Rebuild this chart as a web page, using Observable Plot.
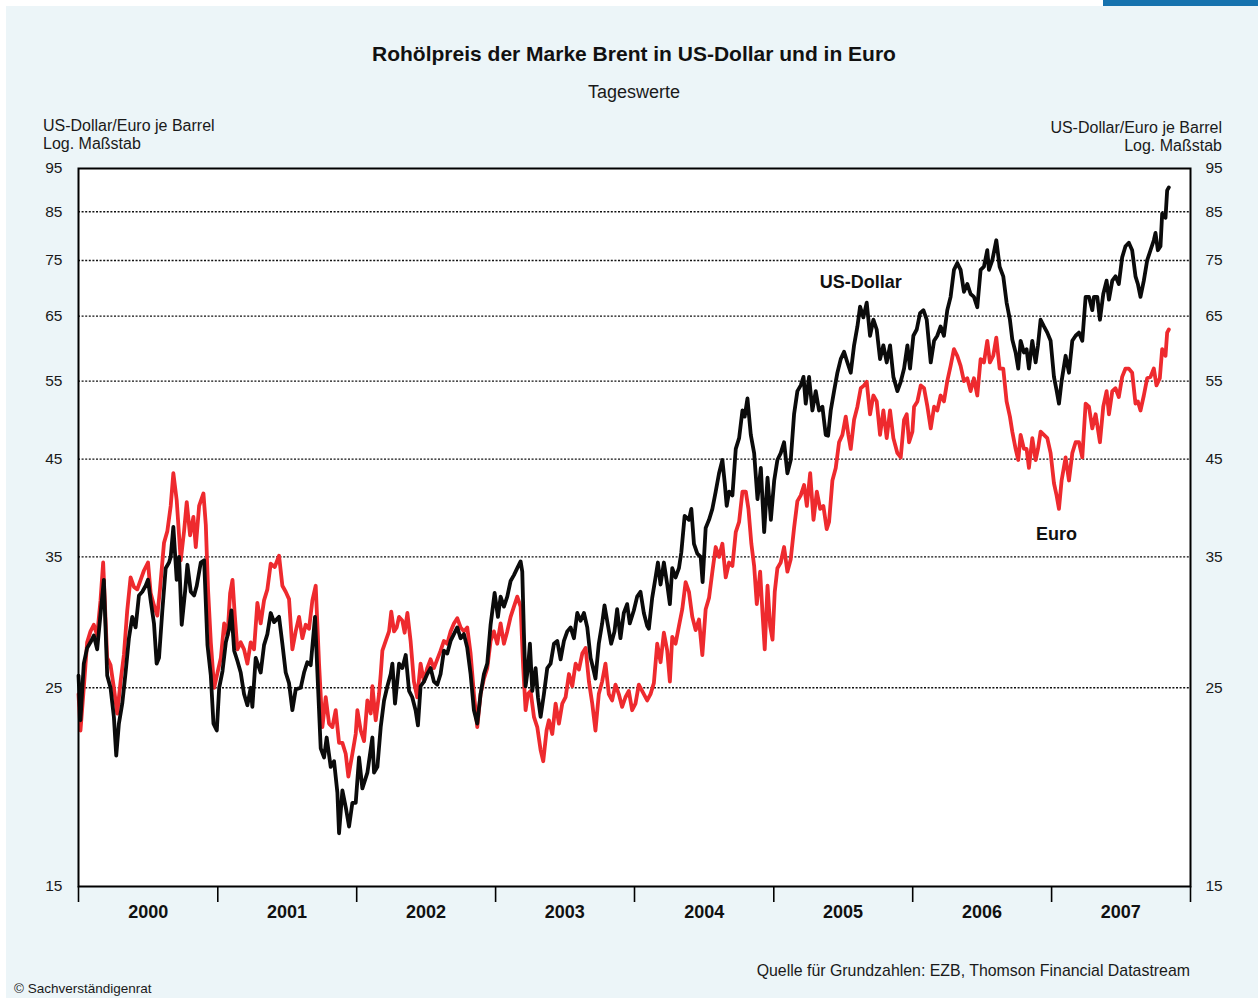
<!DOCTYPE html>
<html lang="de">
<head>
<meta charset="utf-8">
<script src="https://cdn.jsdelivr.net/npm/d3@7"></script>
<script src="https://cdn.jsdelivr.net/npm/@observablehq/plot@0.6"></script>
<style>
  html, body { margin: 0; padding: 0; background: #ffffff; }
  #wrap { position: relative; width: 1258px; height: 999px; overflow: hidden;
          font-family: "Liberation Sans", Arial, Helvetica, sans-serif; color: #1a1a1a; }
  #panel { position: absolute; left: 6px; top: 6px; width: 1252px; height: 992px; background: #ecf5f8; }
  #bar { position: absolute; left: 1103px; top: 0; width: 155px; height: 6px; background: #1672ae; }
  #chart { position: absolute; left: 0; top: 0; }
  .t { position: absolute; white-space: nowrap; line-height: 1; }
  #title { left: 0; width: 1268px; text-align: center; top: 43px; font-size: 21px; font-weight: bold; color: #111; }
  #subtitle { left: 0; width: 1268px; text-align: center; top: 83px; font-size: 18px; }
  #ylabL { left: 43px; top: 117px; font-size: 16px; line-height: 18px; }
  #ylabR { right: 36px; top: 119px; font-size: 16px; line-height: 18px; text-align: right; }
  #source { right: 68px; top: 963px; font-size: 15.9px; }
  #copy { left: 14px; top: 982px; font-size: 13.5px; }
</style>
</head>
<body>
<div id="wrap">
  <div id="panel"></div>
  <div id="bar"></div>
  <div id="chart"></div>
  <div class="t" id="title">Rohölpreis der Marke Brent in US-Dollar und in Euro</div>
  <div class="t" id="subtitle">Tageswerte</div>
  <div class="t" id="ylabL">US-Dollar/Euro je Barrel<br>Log. Maßstab</div>
  <div class="t" id="ylabR">US-Dollar/Euro je Barrel<br>Log. Maßstab</div>
  <div class="t" id="source">Quelle für Grundzahlen: EZB, Thomson Financial Datastream</div>
  <div class="t" id="copy">© Sachverständigenrat</div>
</div>
<script>
// Brent price in US-Dollar per barrel: [decimal year, value]
const usd = [
[2000.000,25.8],[2000.014,23.0],[2000.038,26.6],[2000.062,27.7],[2000.086,28.1],[2000.110,28.6],[2000.134,27.6],[2000.158,30.2],[2000.182,33.0],[2000.206,25.8],[2000.230,25.0],[2000.254,23.2],[2000.271,21.0],[2000.290,22.8],[2000.314,24.0],[2000.338,26.0],[2000.362,28.4],[2000.386,30.0],[2000.410,29.2],[2000.434,31.7],[2000.458,32.0],[2000.482,32.5],[2000.499,33.0],[2000.518,31.3],[2000.542,29.5],[2000.561,26.6],[2000.578,27.0],[2000.602,30.5],[2000.626,34.0],[2000.650,34.5],[2000.662,35.0],[2000.681,37.8],[2000.705,33.0],[2000.722,35.0],[2000.741,29.4],[2000.765,32.0],[2000.782,34.3],[2000.806,32.0],[2000.830,31.7],[2000.849,32.5],[2000.878,34.5],[2000.902,34.7],[2000.926,27.9],[2000.950,25.8],[2000.969,22.8],[2000.993,22.4],
[2001.010,25.0],[2001.034,26.1],[2001.058,28.1],[2001.082,29.1],[2001.098,30.5],[2001.118,27.5],[2001.141,26.8],[2001.165,26.0],[2001.189,24.6],[2001.213,23.9],[2001.237,25.0],[2001.249,23.8],[2001.273,27.0],[2001.309,26.0],[2001.333,27.9],[2001.357,28.7],[2001.381,30.3],[2001.405,29.6],[2001.441,30.0],[2001.465,28.0],[2001.489,26.0],[2001.513,25.3],[2001.537,23.6],[2001.561,24.9],[2001.597,25.0],[2001.621,26.0],[2001.645,26.7],[2001.669,26.5],[2001.700,30.0],[2001.722,25.0],[2001.741,21.4],[2001.765,20.9],[2001.784,22.0],[2001.813,20.4],[2001.837,20.7],[2001.861,19.1],[2001.873,17.2],[2001.897,19.2],[2001.921,18.4],[2001.945,17.5],[2001.969,18.6],[2001.993,18.6],
[2002.017,20.9],[2002.041,19.3],[2002.077,20.1],[2002.113,22.0],[2002.125,20.1],[2002.149,20.4],[2002.173,22.6],[2002.197,24.2],[2002.221,25.1],[2002.245,25.9],[2002.257,26.6],[2002.276,24.0],[2002.305,26.6],[2002.329,26.3],[2002.353,27.2],[2002.377,24.8],[2002.400,24.4],[2002.424,23.6],[2002.441,22.7],[2002.460,25.1],[2002.484,25.4],[2002.508,25.9],[2002.532,26.3],[2002.556,25.4],[2002.580,25.2],[2002.604,25.9],[2002.628,27.5],[2002.652,27.3],[2002.676,28.2],[2002.700,28.7],[2002.724,29.2],[2002.748,28.4],[2002.772,28.7],[2002.796,27.7],[2002.820,25.9],[2002.844,23.6],[2002.868,22.8],[2002.892,24.6],[2002.916,25.9],[2002.940,26.6],[2002.964,29.4],[2002.993,31.9],
[2003.017,30.0],[2003.036,31.6],[2003.060,30.8],[2003.084,31.6],[2003.108,32.9],[2003.132,33.4],[2003.156,34.0],[2003.180,34.6],[2003.192,33.7],[2003.204,28.7],[2003.216,25.1],[2003.233,26.3],[2003.247,28.0],[2003.264,24.8],[2003.288,26.3],[2003.305,24.4],[2003.324,23.2],[2003.348,24.6],[2003.372,26.3],[2003.396,26.6],[2003.420,28.0],[2003.444,28.2],[2003.468,26.9],[2003.492,28.2],[2003.516,28.9],[2003.540,29.2],[2003.564,28.4],[2003.588,30.3],[2003.612,29.7],[2003.636,30.3],[2003.660,29.2],[2003.684,27.0],[2003.707,26.1],[2003.719,25.6],[2003.743,28.0],[2003.767,29.5],[2003.784,30.9],[2003.803,29.7],[2003.832,28.0],[2003.856,28.9],[2003.875,30.6],[2003.899,28.4],[2003.923,30.3],[2003.947,31.0],[2003.966,29.5],[2003.995,30.5],
[2004.019,31.6],[2004.043,32.0],[2004.067,30.3],[2004.091,29.3],[2004.103,29.1],[2004.127,31.5],[2004.151,33.2],[2004.168,34.5],[2004.187,32.6],[2004.211,34.5],[2004.235,32.6],[2004.254,31.0],[2004.271,34.0],[2004.295,33.2],[2004.319,34.0],[2004.336,35.4],[2004.360,38.9],[2004.391,38.5],[2004.408,39.6],[2004.427,36.2],[2004.451,35.3],[2004.475,35.0],[2004.489,32.8],[2004.511,37.7],[2004.535,38.5],[2004.559,39.6],[2004.583,41.4],[2004.607,43.4],[2004.631,44.9],[2004.648,42.3],[2004.662,39.9],[2004.679,41.4],[2004.703,41.0],[2004.727,46.2],[2004.751,47.5],[2004.775,51.0],[2004.791,50.2],[2004.811,52.6],[2004.835,47.9],[2004.859,45.7],[2004.883,40.6],[2004.907,44.0],[2004.931,37.3],[2004.955,42.9],[2004.979,38.5],
[2005.003,42.6],[2005.026,44.9],[2005.050,45.7],[2005.074,47.0],[2005.098,43.4],[2005.122,44.9],[2005.146,50.5],[2005.170,53.6],[2005.194,54.4],[2005.214,55.6],[2005.230,51.9],[2005.254,55.6],[2005.278,51.0],[2005.302,53.6],[2005.326,51.0],[2005.350,51.5],[2005.374,47.9],[2005.391,47.8],[2005.410,51.0],[2005.434,53.6],[2005.458,56.2],[2005.482,58.2],[2005.506,59.3],[2005.530,57.7],[2005.554,56.2],[2005.578,60.3],[2005.602,63.3],[2005.621,66.6],[2005.645,64.8],[2005.669,67.3],[2005.693,61.8],[2005.717,64.4],[2005.741,62.8],[2005.765,58.2],[2005.789,60.3],[2005.813,57.7],[2005.837,60.3],[2005.861,55.6],[2005.890,53.6],[2005.914,54.9],[2005.938,56.8],[2005.962,60.3],[2005.981,56.8],
[2006.005,61.8],[2006.029,62.8],[2006.053,65.5],[2006.077,66.0],[2006.101,64.4],[2006.130,57.7],[2006.154,61.0],[2006.177,61.8],[2006.201,63.3],[2006.225,61.8],[2006.249,66.0],[2006.273,68.3],[2006.297,73.2],[2006.321,74.5],[2006.345,73.2],[2006.369,69.2],[2006.393,70.6],[2006.417,68.8],[2006.441,68.3],[2006.465,66.5],[2006.489,73.2],[2006.513,73.8],[2006.537,77.0],[2006.549,73.2],[2006.573,75.0],[2006.602,79.0],[2006.626,73.8],[2006.652,72.0],[2006.676,67.3],[2006.700,64.4],[2006.717,61.2],[2006.741,59.2],[2006.760,56.8],[2006.777,61.0],[2006.801,59.2],[2006.820,59.7],[2006.837,56.8],[2006.861,61.0],[2006.885,57.7],[2006.902,60.3],[2006.921,64.4],[2006.945,63.3],[2006.969,62.3],[2006.993,61.0],
[2007.017,55.6],[2007.036,53.7],[2007.053,51.9],[2007.072,55.0],[2007.101,58.7],[2007.125,56.2],[2007.149,61.0],[2007.173,61.8],[2007.197,62.3],[2007.221,61.0],[2007.245,68.3],[2007.269,68.3],[2007.293,66.0],[2007.305,68.3],[2007.329,68.3],[2007.348,64.4],[2007.372,68.8],[2007.396,71.2],[2007.413,67.8],[2007.437,71.2],[2007.460,72.0],[2007.484,70.6],[2007.508,75.6],[2007.532,77.8],[2007.556,78.5],[2007.580,77.0],[2007.604,72.0],[2007.621,70.6],[2007.640,68.3],[2007.664,71.2],[2007.688,75.0],[2007.712,77.0],[2007.736,79.0],[2007.748,80.5],[2007.765,77.0],[2007.784,77.8],[2007.796,84.6],[2007.820,83.7],[2007.832,89.8],[2007.844,90.5]
];

// Brent price in Euro per barrel: [decimal year, value]
const eur = [
[2000.000,24.6],[2000.014,22.4],[2000.038,25.0],[2000.062,28.1],[2000.086,28.9],[2000.110,29.4],[2000.134,28.6],[2000.158,31.3],[2000.177,34.5],[2000.206,27.0],[2000.230,26.5],[2000.254,25.0],[2000.278,23.4],[2000.302,25.4],[2000.326,27.2],[2000.350,30.5],[2000.374,33.2],[2000.398,32.4],[2000.422,32.2],[2000.446,33.0],[2000.470,33.8],[2000.499,34.5],[2000.518,31.9],[2000.542,30.9],[2000.566,30.1],[2000.585,32.2],[2000.614,36.3],[2000.638,37.4],[2000.662,39.9],[2000.681,43.4],[2000.705,40.5],[2000.734,34.7],[2000.758,37.4],[2000.777,40.3],[2000.801,37.0],[2000.825,38.8],[2000.842,35.9],[2000.866,39.9],[2000.897,41.2],[2000.914,38.0],[2000.930,32.2],[2000.950,28.1],[2000.974,25.0],[2000.998,26.0],
[2001.022,27.0],[2001.046,29.5],[2001.070,28.6],[2001.089,31.9],[2001.106,33.0],[2001.122,30.2],[2001.141,27.6],[2001.165,28.1],[2001.189,27.6],[2001.213,26.6],[2001.237,28.1],[2001.261,27.6],[2001.285,31.1],[2001.309,29.5],[2001.333,31.3],[2001.357,32.2],[2001.381,34.4],[2001.410,34.1],[2001.441,35.1],[2001.465,32.5],[2001.489,32.0],[2001.513,31.4],[2001.537,27.6],[2001.561,28.9],[2001.585,30.0],[2001.609,28.4],[2001.633,29.4],[2001.657,29.1],[2001.681,31.3],[2001.705,32.5],[2001.729,26.6],[2001.753,22.6],[2001.777,24.4],[2001.801,22.8],[2001.825,22.6],[2001.849,23.6],[2001.873,21.7],[2001.897,21.7],[2001.921,21.1],[2001.940,19.9],[2001.969,21.1],[2001.993,22.2],
[2002.005,23.6],[2002.029,22.4],[2002.053,21.8],[2002.077,24.2],[2002.101,23.4],[2002.113,25.1],[2002.137,23.0],[2002.161,24.6],[2002.173,25.9],[2002.185,27.5],[2002.209,28.2],[2002.233,28.9],[2002.249,30.4],[2002.269,28.9],[2002.288,29.2],[2002.305,30.0],[2002.329,29.7],[2002.345,28.8],[2002.365,30.3],[2002.388,28.2],[2002.412,25.4],[2002.436,24.4],[2002.460,26.6],[2002.484,25.4],[2002.508,26.3],[2002.532,26.9],[2002.556,26.3],[2002.580,26.9],[2002.604,27.5],[2002.628,28.2],[2002.652,28.0],[2002.676,28.9],[2002.700,29.5],[2002.724,29.9],[2002.748,29.2],[2002.772,28.9],[2002.796,29.2],[2002.820,27.3],[2002.844,24.6],[2002.868,22.6],[2002.892,24.6],[2002.916,25.6],[2002.940,26.3],[2002.964,28.2],[2002.988,28.9],
[2003.012,28.0],[2003.036,29.5],[2003.060,28.0],[2003.084,28.9],[2003.108,30.0],[2003.132,30.8],[2003.156,31.6],[2003.180,30.8],[2003.199,26.3],[2003.216,23.6],[2003.233,24.6],[2003.252,24.8],[2003.276,23.2],[2003.300,22.6],[2003.324,21.3],[2003.343,20.7],[2003.367,22.4],[2003.384,23.0],[2003.408,22.2],[2003.432,24.0],[2003.456,22.8],[2003.480,24.0],[2003.504,24.4],[2003.528,25.9],[2003.552,25.1],[2003.576,26.6],[2003.600,26.2],[2003.624,27.3],[2003.648,27.7],[2003.672,25.4],[2003.696,24.0],[2003.719,22.4],[2003.743,24.6],[2003.767,25.4],[2003.791,26.6],[2003.815,24.6],[2003.839,24.2],[2003.863,25.2],[2003.887,24.6],[2003.911,23.8],[2003.935,24.4],[2003.959,24.8],[2003.983,23.6],
[2004.007,24.0],[2004.031,25.2],[2004.067,24.6],[2004.091,24.2],[2004.115,24.6],[2004.139,25.3],[2004.163,28.0],[2004.187,26.7],[2004.211,28.8],[2004.235,27.5],[2004.254,25.4],[2004.271,28.5],[2004.295,28.0],[2004.319,29.3],[2004.343,30.6],[2004.367,32.8],[2004.391,32.0],[2004.415,30.0],[2004.439,29.0],[2004.463,29.8],[2004.487,27.2],[2004.511,30.6],[2004.535,31.5],[2004.559,33.7],[2004.583,35.9],[2004.607,35.0],[2004.631,36.2],[2004.655,33.2],[2004.679,34.5],[2004.703,34.2],[2004.727,37.3],[2004.751,38.3],[2004.775,41.4],[2004.799,41.4],[2004.818,39.6],[2004.839,36.2],[2004.859,34.2],[2004.878,31.0],[2004.902,33.7],[2004.919,30.3],[2004.935,27.6],[2004.955,32.5],[2004.974,29.3],[2004.991,28.3],
[2005.007,32.0],[2005.026,34.0],[2005.050,34.5],[2005.074,35.9],[2005.098,33.7],[2005.122,34.8],[2005.146,37.7],[2005.170,40.4],[2005.194,41.0],[2005.218,42.1],[2005.238,39.9],[2005.262,43.4],[2005.286,38.5],[2005.310,41.4],[2005.334,39.6],[2005.357,39.9],[2005.381,37.6],[2005.398,38.3],[2005.422,42.6],[2005.446,44.0],[2005.470,47.0],[2005.494,47.9],[2005.518,50.2],[2005.537,47.9],[2005.554,46.2],[2005.578,49.8],[2005.602,51.5],[2005.626,54.0],[2005.650,54.4],[2005.669,54.9],[2005.693,50.5],[2005.717,53.0],[2005.741,52.2],[2005.765,47.9],[2005.789,51.0],[2005.813,47.5],[2005.837,51.0],[2005.861,47.5],[2005.890,45.7],[2005.914,45.2],[2005.938,49.8],[2005.957,50.5],[2005.974,47.0],[2005.998,48.3],
[2006.010,51.5],[2006.034,52.2],[2006.058,54.4],[2006.082,54.0],[2006.106,51.5],[2006.130,48.7],[2006.154,51.5],[2006.177,51.0],[2006.201,53.0],[2006.225,52.2],[2006.249,55.0],[2006.273,57.2],[2006.297,59.7],[2006.321,58.7],[2006.345,57.2],[2006.369,55.0],[2006.393,55.4],[2006.417,53.6],[2006.441,55.4],[2006.465,53.0],[2006.489,58.2],[2006.513,57.7],[2006.537,61.0],[2006.556,57.7],[2006.580,58.7],[2006.602,61.5],[2006.626,56.8],[2006.652,56.8],[2006.676,52.2],[2006.700,50.2],[2006.717,48.3],[2006.741,46.2],[2006.760,44.9],[2006.777,47.9],[2006.801,46.2],[2006.820,46.2],[2006.837,44.0],[2006.861,47.5],[2006.885,44.9],[2006.902,46.2],[2006.921,48.3],[2006.945,47.9],[2006.969,47.5],[2006.993,45.7],
[2007.017,42.3],[2007.036,41.0],[2007.053,39.6],[2007.072,42.6],[2007.101,45.2],[2007.125,42.6],[2007.149,45.7],[2007.173,47.0],[2007.197,47.0],[2007.221,45.2],[2007.245,51.9],[2007.269,51.5],[2007.293,48.7],[2007.317,50.5],[2007.348,47.0],[2007.372,51.5],[2007.396,53.6],[2007.413,50.5],[2007.437,53.6],[2007.460,54.0],[2007.484,52.8],[2007.508,55.6],[2007.532,56.8],[2007.556,56.8],[2007.580,56.2],[2007.604,51.9],[2007.621,52.2],[2007.640,51.0],[2007.664,53.0],[2007.688,55.4],[2007.712,55.6],[2007.736,56.8],[2007.755,54.4],[2007.779,55.4],[2007.796,59.7],[2007.820,58.7],[2007.832,62.3],[2007.844,62.8]
];

// Axis tick values and year labels
const yTicks = [15, 25, 35, 45, 55, 65, 75, 85, 95];
const gridValues = [25, 35, 45, 55, 65, 75, 85];
const years = [2000, 2001, 2002, 2003, 2004, 2005, 2006, 2007];
const yearBounds = [2000, 2001, 2002, 2003, 2004, 2005, 2006, 2007, 2008];

// Direct line labels: [name, decimal year, value]
const lineLabels = [["US-Dollar", 2005.626, 70.9], ["Euro", 2007.036, 37.1]];

function toDate(t) {
  const y = Math.floor(t);
  const a = Date.UTC(y, 0, 1), b = Date.UTC(y + 1, 0, 1);
  return new Date(a + (t - y) * (b - a));
}

const usdData = usd.map(([t, v]) => ({date: toDate(t), value: v}));
const eurData = eur.map(([t, v]) => ({date: toDate(t), value: v}));
const labelData = lineLabels.map(([name, t, v]) => ({name, date: toDate(t), value: v}));
const boundDates = yearBounds.map(y => new Date(Date.UTC(y, 0, 1)));
const midDates = years.map(y => new Date(Date.UTC(y, 6, 2)));

const chart = Plot.plot({
  width: 1258,
  height: 999,
  marginLeft: 78,
  marginRight: 68,
  marginTop: 168,
  marginBottom: 113,
  x: {type: "utc", domain: [boundDates[0], boundDates[boundDates.length - 1]]},
  y: {type: "log", domain: [15, 95]},
  style: {
    fontFamily: '"Liberation Sans", Arial, Helvetica, sans-serif',
    background: "transparent",
    color: "#1a1a1a",
    overflow: "visible"
  },
  marks: [
    Plot.frame({fill: "white", stroke: "none"}),
    Plot.ruleY(gridValues, {stroke: "#111", strokeWidth: 1.4, strokeDasharray: "2,1.6"}),
    Plot.line(eurData, {x: "date", y: "value", stroke: "#ee2a2e", strokeWidth: 3.8, strokeLinejoin: "round", strokeLinecap: "round"}),
    Plot.line(usdData, {x: "date", y: "value", stroke: "#0b0b0b", strokeWidth: 3.8, strokeLinejoin: "round", strokeLinecap: "round"}),
    Plot.text(labelData, {x: "date", y: "value", text: "name", fontSize: 18, fontWeight: "bold", fill: "#111"}),
    Plot.frame({stroke: "#000", strokeWidth: 2}),
    Plot.axisY(yTicks, {anchor: "left", tickSize: 0, tickPadding: 16, fontSize: 15.5, tickFormat: d => String(d), label: null}),
    Plot.axisY(yTicks, {anchor: "right", tickSize: 0, tickPadding: 15, fontSize: 15.5, tickFormat: d => String(d), label: null}),
    Plot.axisX(boundDates, {anchor: "bottom", tickSize: 16, strokeWidth: 1.6, stroke: "#000", tickFormat: () => "", label: null}),
    Plot.axisX(midDates, {anchor: "bottom", tickSize: 0, tickPadding: 19, fontSize: 18, fontWeight: "bold", fill: "#111", tickFormat: d3.utcFormat("%Y"), label: null})
  ]
});

document.getElementById("chart").appendChild(chart);
</script>
</body>
</html>
